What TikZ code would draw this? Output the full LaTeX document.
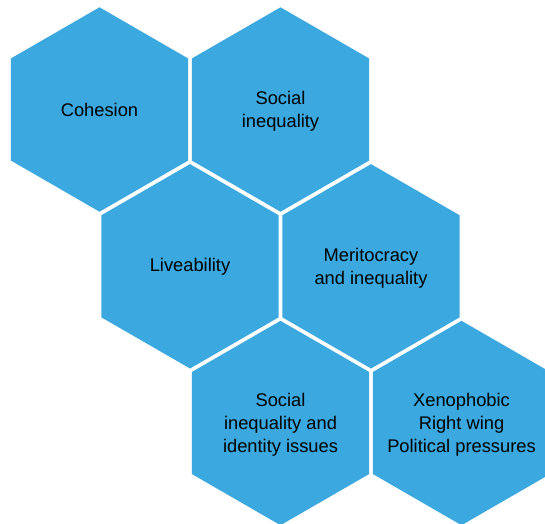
\documentclass[tikz,border=0pt]{standalone}
\usepackage{fontspec}
\setmainfont{Liberation Sans}
\definecolor{hexblue}{RGB}{59,169,224}
\tikzset{
  hexfill/.style={fill=hexblue},
  hexlabel/.style={align=center,font=\fontsize{18.3}{22.9}\selectfont,text=black,inner sep=0pt}
}
\newcommand{\hexshape}[2]{%
  \path[hexfill,shift={(#1,#2)}] (30:102.2) -- (90:102.2) -- (150:102.2) -- (210:102.2) -- (270:102.2) -- (330:102.2) -- cycle;}
\begin{document}
\begin{tikzpicture}[x=1pt,y=-1pt]
\useasboundingbox (0,0) rectangle (545,523);
\clip (0,0) rectangle (545,523);
\hexshape{99.5}{109.5}
\hexshape{280.5}{109.5}
\hexshape{190}{266.3}
\hexshape{371}{266.3}
\hexshape{280.5}{423}
\hexshape{461.5}{423}
\node[hexlabel] (cohesion) at (99.5,109.5) {Cohesion};
\node[hexlabel] (social) at (280.5,111.5) {Social\\inequality};
\node[hexlabel] (live) at (190,266.3) {Liveability};
\node[hexlabel] (merit) at (371,268) {Meritocracy\\and inequality};
\node[hexlabel] (identity) at (280.5,424.5) {Social\\inequality and\\identity issues};
\node[hexlabel] (xeno) at (461.5,424.5) {Xenophobic\\Right wing\\Political pressures};
\end{tikzpicture}
\end{document}
